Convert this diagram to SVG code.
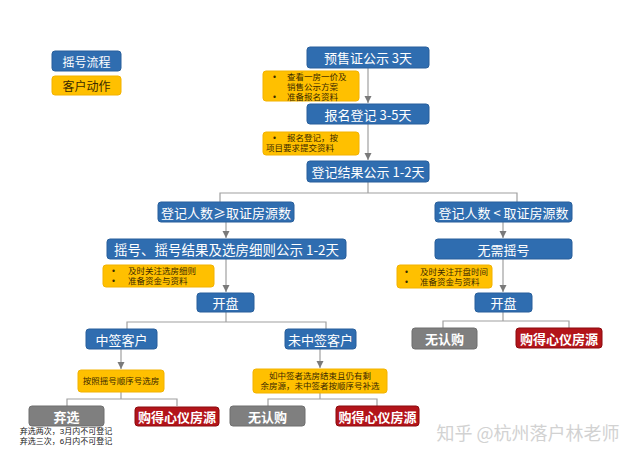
<svg xmlns="http://www.w3.org/2000/svg" width="640" height="462" viewBox="0 0 640 462">
<defs>
<marker id="arr" markerWidth="8" markerHeight="8" refX="7" refY="4" orient="auto" markerUnits="userSpaceOnUse">
<path d="M0,0.5 L7,4 L0,7.5 Z" fill="#7a7a7a"/>
</marker>
<style>
.blue{fill:#2f6db0;stroke:#285f9b;stroke-width:1}
.note{fill:#ffc000;stroke:#f2b200;stroke-width:1}
.gray{fill:#7f7f7f;stroke:#6f6f6f;stroke-width:1}
.red{fill:#b3141a;stroke:#8a0a0e;stroke-width:1}
.bt{font-family:"Noto Sans CJK SC","Noto Sans",sans-serif;font-size:13px;fill:#ffffff;text-anchor:middle;dominant-baseline:central}
.wt{font-family:"Noto Sans CJK SC","Noto Sans",sans-serif;font-size:13px;font-weight:bold;fill:#ffffff;text-anchor:middle;dominant-baseline:central}
.nt{font-family:"Liberation Sans","Noto Sans CJK SC",sans-serif;font-size:8.5px;fill:#3a2a00}
.ntc{font-family:"Liberation Sans","Noto Sans CJK SC",sans-serif;font-size:8.5px;fill:#3a2a00;text-anchor:middle}
.sm{font-family:"Liberation Sans","Noto Sans CJK SC",sans-serif;font-size:8px;fill:#222;text-anchor:middle}
.ln{fill:none;stroke:#a0a0a0;stroke-width:1.2}
.la{fill:none;stroke:#a0a0a0;stroke-width:1.2;marker-end:url(#arr)}
</style>
</defs>
<rect width="640" height="462" fill="#ffffff"/>

<g id="connectors">
<path class="la" d="M368,68 V103"/>
<path class="la" d="M368,124 V160"/>
<path class="ln" d="M368,182 V193 M220,202 V193 H517 V202"/>
<path class="la" d="M226,222 V238"/>
<path class="la" d="M226,259 V292"/>
<path class="ln" d="M226,312 V322 M127,329 V322 H326 V329"/>
<path class="la" d="M121,349 V369"/>
<path class="ln" d="M121,392 V399 M67,406 V399 H177 V406"/>
<path class="la" d="M320,349 V368"/>
<path class="ln" d="M320,393 V399 M268,406 V399 H377 V406"/>
<path class="la" d="M503,222 V238"/>
<path class="la" d="M503,259 V292"/>
<path class="ln" d="M503,312 V321 M443,328 V321 H569 V328"/>
</g>

<g id="legend-flow">
<rect class="blue" x="52" y="51" width="69" height="20" rx="3"/>
<text class="bt" x="86.5" y="61" style="font-size:12px">摇号流程</text>
</g>
<g id="legend-action">
<rect class="note" x="52" y="76" width="69" height="19" rx="3"/>
<text class="bt" x="86.5" y="85.5" style="font-size:12px;fill:#3a2a00">客户动作</text>
</g>

<g id="n-presale">
<rect class="blue" x="307" y="47" width="122" height="21" rx="3"/>
<text class="bt" x="368" y="57.5">预售证公示 3天</text>
</g>
<g id="note1">
<rect class="note" x="263" y="71" width="96" height="30" rx="3"/>
<text class="nt"><tspan x="273" y="79.5">•</tspan><tspan x="287" y="79.5">查看一房一价及</tspan><tspan x="287" y="89.5">销售公示方案</tspan><tspan x="273" y="99.5">•</tspan><tspan x="287" y="99.5">准备报名资料</tspan></text>
</g>
<g id="n-register">
<rect class="blue" x="307" y="104" width="122" height="20" rx="3"/>
<text class="bt" x="368" y="114">报名登记 3-5天</text>
</g>
<g id="note2">
<rect class="note" x="263" y="132" width="96" height="23" rx="3"/>
<text class="nt"><tspan x="273" y="141">•</tspan><tspan x="287" y="141">报名登记，按</tspan><tspan x="266" y="151">项目要求提交资料</tspan></text>
</g>
<g id="n-result">
<rect class="blue" x="307" y="161" width="122" height="21" rx="3"/>
<text class="bt" x="368" y="171.5">登记结果公示 1-2天</text>
</g>

<g id="n-more">
<rect class="blue" x="158" y="202" width="136" height="20" rx="3"/>
<text class="bt" x="226" y="212">登记人数≥取证房源数</text>
</g>
<g id="n-less">
<rect class="blue" x="435" y="202" width="137" height="20" rx="3"/>
<text class="bt" x="503.5" y="212">登记人数 &lt; 取证房源数</text>
</g>

<g id="n-lottery">
<rect class="blue" x="107" y="239" width="239" height="20" rx="3"/>
<text class="bt" x="226.5" y="249" style="font-size:13.5px">摇号、摇号结果及选房细则公示 1-2天</text>
</g>
<g id="note3">
<rect class="note" x="103" y="265" width="111" height="22" rx="3"/>
<text class="nt"><tspan x="112" y="274">•</tspan><tspan x="128" y="274">及时关注选房细则</tspan><tspan x="112" y="284">•</tspan><tspan x="128" y="284">准备资金与资料</tspan></text>
</g>
<g id="n-open-left">
<rect class="blue" x="197" y="293" width="57" height="19" rx="3"/>
<text class="bt" x="225.5" y="302.5">开盘</text>
</g>

<g id="n-win">
<rect class="blue" x="86" y="329" width="71" height="20" rx="3"/>
<text class="bt" x="121.5" y="339">中签客户</text>
</g>
<g id="n-lose">
<rect class="blue" x="285" y="329" width="71" height="20" rx="3"/>
<text class="bt" x="320.5" y="339">未中签客户</text>
</g>
<g id="note4">
<rect class="note" x="78" y="370" width="86" height="22" rx="3"/>
<text class="ntc" x="121" y="384">按照摇号顺序号选房</text>
</g>
<g id="note5">
<rect class="note" x="253" y="369" width="134" height="24" rx="3"/>
<text class="ntc"><tspan x="320" y="378.5">如中签者选房结束且仍有剩</tspan><tspan x="320" y="389">余房源，未中签者按顺序号补选</tspan></text>
</g>

<g id="n-abandon">
<rect class="gray" x="29" y="406" width="75" height="20" rx="3"/>
<text class="wt" x="66.5" y="416">弃选</text>
<text class="sm"><tspan x="66" y="433.5">弃选两次，3月内不可登记</tspan><tspan x="66" y="444">弃选三次，6月内不可登记</tspan></text>
</g>
<g id="n-buy-1">
<rect class="red" x="135" y="407" width="84" height="19" rx="3"/>
<text class="wt" x="177" y="416.5">购得心仪房源</text>
</g>
<g id="n-none-1">
<rect class="gray" x="230" y="406" width="75" height="20" rx="3"/>
<text class="wt" x="267.5" y="416">无认购</text>
</g>
<g id="n-buy-2">
<rect class="red" x="336" y="406" width="83" height="20" rx="3"/>
<text class="wt" x="377.5" y="416">购得心仪房源</text>
</g>

<g id="n-nolottery">
<rect class="blue" x="435" y="239" width="137" height="20" rx="3"/>
<text class="bt" x="503.5" y="249">无需摇号</text>
</g>
<g id="note6">
<rect class="note" x="397" y="265" width="95" height="23" rx="3"/>
<text class="nt"><tspan x="405" y="274.5">•</tspan><tspan x="420" y="274.5">及时关注开盘时间</tspan><tspan x="405" y="284.5">•</tspan><tspan x="420" y="284.5">准备资金与资料</tspan></text>
</g>
<g id="n-open-right">
<rect class="blue" x="475" y="293" width="57" height="19" rx="3"/>
<text class="bt" x="503.5" y="302.5">开盘</text>
</g>
<g id="n-none-2">
<rect class="gray" x="412" y="328" width="65" height="21" rx="3"/>
<text class="wt" x="444.5" y="338.5">无认购</text>
</g>
<g id="n-buy-3">
<rect class="red" x="516" y="328" width="86" height="20" rx="3"/>
<text class="wt" x="559" y="338">购得心仪房源</text>
</g>

<text x="528" y="440" style="font-family:'Noto Sans CJK SC','Noto Sans',sans-serif;font-size:18px;fill:#d2d2d2;text-anchor:middle">知乎 @杭州落户林老师</text>
</svg>
